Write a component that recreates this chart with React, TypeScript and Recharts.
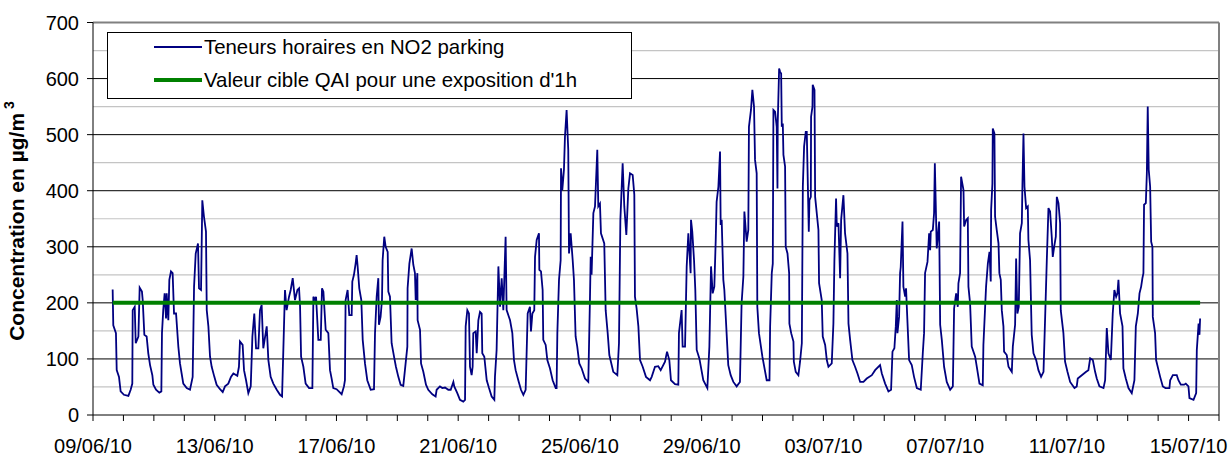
import React from 'react';
import { LineChart, Line, XAxis, YAxis, ReferenceLine } from 'recharts';

// date labels shown every 4 days on the x axis
const dateLabels = ['09/06/10', '13/06/10', '17/06/10', '21/06/10', '25/06/10', '29/06/10', '03/07/10', '07/07/10', '11/07/10', '15/07/10'];

// hours since 09/06/10 00:00
const hours = [
  15.5, 16.0, 18.1, 18.7, 20.5, 21.8, 24.4, 27.9, 29.7, 31.0,
  31.3, 32.9, 33.7, 35.8, 36.8, 38.6, 39.2, 40.5, 42.3, 43.6,
  45.0, 46.8, 47.6, 49.7, 52.3, 53.9, 54.4, 55.4, 56.5, 57.6,
  58.1, 59.4, 60.2, 61.5, 62.8, 63.9, 65.5, 67.3, 68.6, 69.9,
  71.2, 73.9, 76.5, 78.6, 79.7, 81.0, 82.8, 83.6, 85.2, 86.2,
  87.5, 89.1, 89.7, 91.0, 92.3, 93.6, 95.7, 97.5, 100.2, 102.3,
  104.1, 106.7, 108.8, 110.7, 113.8, 115.1, 115.9, 118.0, 119.1, 120.7,
  122.5, 124.4, 125.7, 127.2, 128.6, 130.4, 131.7, 133.0, 134.3, 137.0,
  138.3, 140.1, 142.2, 144.9, 147.5, 149.1, 149.6, 151.4, 152.7, 154.6,
  155.9, 157.5, 159.3, 161.2, 162.5, 163.3, 164.1, 165.9, 167.7, 170.4,
  173.0, 173.8, 175.1, 175.9, 177.7, 179.6, 180.6, 181.7, 183.5, 185.6,
  // 17/06 - 24/06
  186.9, 188.2, 189.5, 192.1, 196.1, 197.9, 198.7, 199.2, 200.8, 202.1,
  204.0, 204.5, 205.8, 207.1, 207.9, 208.7, 210.0, 211.6, 212.7, 214.5,
  216.3, 219.0, 221.6, 222.4, 223.7, 225.0, 225.5, 226.8, 227.9, 228.4,
  229.7, 230.8, 232.4, 232.9, 234.2, 235.5, 237.4, 238.9, 240.8, 242.6,
  244.7, 246.0, 247.9, 248.1, 249.5, 251.3, 252.6, 253.9, 254.5, 255.8,
  256.0, 257.9, 258.7, 260.5, 262.6, 264.4, 267.6, 270.2, 271.0, 273.6,
  275.5, 277.6, 280.2, 282.1, 284.2, 284.9, 287.3, 289.4, 292.0, 293.4,
  293.9, 295.2, 296.5, 297.3, 298.6, 299.4, 299.9, 301.8, 302.6, 303.9,
  305.2, 306.5, 307.0, 308.6, 310.5, 312.3, 314.4, 316.5, 317.0, 318.3,
  319.7, 321.0, 322.3, 323.6, 325.4, 326.2, 328.9, 330.7, 332.0, 333.3,
  335.4, 337.5, 339.4, 341.2, 342.8, 344.6, 345.4, 346.5, 348.0, 348.6,
  349.9, 351.7, 352.0, 353.3, 354.6,
  // 24/06 - 01/07
  355.1, 357.0, 358.3, 360.4, 362.5, 364.9, 365.6, 366.2, 367.5, 368.8,
  369.1, 370.1, 371.4, 372.2, 373.5, 374.8, 375.4, 376.7, 378.3, 379.3,
  380.6, 381.9, 383.5, 385.4, 388.0, 390.6, 391.9, 392.5, 393.2, 394.6,
  395.9, 397.7, 398.5, 399.8, 400.6, 403.2, 404.3, 405.9, 407.2, 410.3,
  413.5, 414.8, 415.9, 417.7, 419.0, 420.6, 422.2, 423.5, 425.6, 426.9,
  427.4, 428.7, 430.1, 431.4, 433.5, 436.1, 439.3, 440.6, 443.2, 445.8,
  447.7, 451.1, 452.7, 454.5, 455.8, 459.0, 461.6, 462.1, 464.2, 465.0,
  466.9, 468.2, 469.5, 471.3, 471.6, 472.6, 474.0, 475.0, 476.1, 478.2,
  481.3, 484.5, 486.1, 487.4, 488.7, 490.0, 491.1, 491.8, 493.2, 494.5,
  495.0, 495.8, 497.1, 497.9, 501.0, 502.9, 505.0, 507.6, 510.2, 511.5,
  512.9, 513.7, 515.5, 516.8, 517.3, 518.9, 520.0, 521.3, 522.1, 523.4,
  523.9, 525.2, 527.9, 531.3,
  // 02/07 - 08/07
  533.5, 534.0, 535.3, 536.1, 536.6, 537.9, 539.2, 539.8, 540.0, 541.1,
  541.9, 542.7, 543.2, 544.0, 544.5, 545.8, 546.3, 547.7, 549.0, 549.2,
  550.6, 552.4, 552.7, 554.2, 556.3, 557.6, 559.0, 559.8, 560.8, 562.1,
  562.9, 564.5, 565.0, 566.1, 566.3, 567.4, 567.6, 569.0, 569.5, 572.1,
  572.6, 574.7, 575.5, 577.4, 578.7, 580.0, 582.6, 583.9, 584.7, 586.0,
  586.6, 587.9, 589.2, 590.0, 591.8, 593.1, 595.0, 595.8, 597.1, 598.9,
  601.0, 602.9, 605.0, 607.6, 610.2, 614.2, 616.8, 620.7, 622.1, 624.7,
  627.3, 629.4, 630.5, 632.0, 633.1, 633.9, 634.4, 635.7, 636.5, 637.0,
  638.4, 639.1, 640.5, 641.2, 641.8, 643.6, 645.7, 647.5, 649.7, 652.8,
  654.4, 655.4, 656.2, 658.1, 659.4, 660.2, 660.7, 662.3, 663.3, 663.9,
  664.9, 665.4, 667.3, 668.1, 669.4, 671.2, 673.3, 676.0, 678.1, 679.1,
  680.7, 682.0, 682.5, 683.8, 684.6, 686.5, 687.0, 688.6, 689.9, 690.4,
  691.7, 693.0, 695.7, 697.0, 699.1, 701.7, 702.2, 704.3, 705.7, 707.0,
  // 08/07 - 15/07
  708.0, 708.3, 709.3, 709.6, 710.9, 711.4, 712.7, 714.1, 714.8, 715.9,
  716.7, 718.0, 718.5, 720.6, 722.0, 724.6, 725.4, 727.2, 728.0, 729.0,
  730.1, 731.1, 732.5, 733.0, 733.8, 734.6, 735.9, 737.2, 737.7, 739.0,
  740.3, 741.7, 743.8, 745.6, 747.7, 749.6, 750.9, 752.2, 753.5, 754.8,
  756.1, 756.9, 758.0, 759.3, 760.1, 761.4, 762.7, 763.2, 765.3, 766.6,
  768.5, 770.6, 774.0, 775.8, 776.6, 779.8, 783.2, 785.0, 786.4, 788.5,
  790.3, 791.6, 793.7, 796.9, 798.2, 799.5, 800.8, 802.7, 804.2, 805.5,
  806.9, 807.9, 808.7, 810.0, 811.9, 812.6, 814.5, 816.6, 819.2, 821.3,
  822.4, 824.0, 825.3, 826.6, 827.6, 828.4, 828.9, 830.3, 831.1, 831.8,
  832.6, 833.7, 834.5, 835.5, 835.8, 837.6, 838.4, 840.3, 841.6, 843.7,
  845.8, 848.9, 849.5, 851.6, 854.7, 856.0, 857.9, 860.5, 861.8, 863.9,
  864.7, 867.9, 870.0, 870.5, 871.9, 872.6, 873.1,
];

// NO2 concentration in µg/m3, same order as hours
const no2 = [
  224, 160, 146, 80, 68, 42, 36, 34, 45, 56,
  187, 193, 128, 140, 227, 220, 205, 143, 140, 110,
  89, 71, 54, 45, 40, 42, 146, 187, 217, 172,
  217, 169, 241, 256, 253, 181, 181, 122, 92, 74,
  56, 48, 45, 68, 229, 288, 306, 226, 223, 383,
  354, 327, 187, 158, 104, 86, 68, 54, 46, 41,
  51, 56, 68, 74, 70, 86, 131, 125, 80, 62,
  39, 51, 140, 181, 119, 119, 187, 196, 119, 158,
  98, 68, 56, 45, 36, 33, 74, 223, 187, 211,
  223, 244, 205, 223, 226, 193, 104, 86, 56, 48,
  48, 211, 205, 211, 134, 134, 226, 220, 152, 146,
  // 17/06 - 24/06
  80, 65, 48, 46, 37, 51, 62, 205, 223, 178,
  178, 238, 250, 270, 285, 265, 226, 205, 134, 92,
  62, 45, 46, 146, 211, 244, 161, 175, 205, 276,
  318, 300, 291, 220, 211, 128, 104, 86, 68, 54,
  52, 80, 122, 226, 270, 297, 268, 253, 205, 253,
  169, 152, 92, 77, 54, 45, 37, 33, 45, 51,
  48, 49, 45, 45, 59, 51, 39, 27, 24, 27,
  158, 187, 181, 86, 71, 86, 146, 149, 110, 169,
  184, 181, 110, 104, 62, 48, 33, 27, 68, 116,
  265, 193, 244, 187, 318, 187, 169, 146, 98, 80,
  62, 45, 36, 45, 181, 193, 149, 181, 187, 282,
  312, 324, 259, 256, 223,
  // 24/06 - 01/07
  134, 125, 98, 83, 62, 48, 48, 146, 241, 276,
  440, 401, 437, 496, 544, 473, 288, 324, 276, 241,
  140, 122, 92, 83, 65, 59, 205, 282, 250, 360,
  372, 473, 372, 377, 324, 306, 187, 146, 107, 77,
  71, 128, 348, 449, 372, 321, 404, 431, 428, 393,
  211, 190, 158, 98, 86, 68, 62, 68, 86, 87,
  80, 95, 113, 98, 62, 55, 54, 146, 187, 122,
  122, 265, 324, 253, 348, 327, 276, 223, 116, 101,
  62, 48, 122, 265, 217, 229, 312, 380, 407, 470,
  339, 348, 241, 223, 89, 71, 59, 51, 59, 199,
  247, 363, 309, 330, 514, 544, 580, 550, 455, 431,
  193, 146, 104, 62,
  // 02/07 - 08/07
  62, 158, 253, 270, 544, 541, 514, 404, 520, 618,
  612, 609, 514, 520, 464, 443, 300, 288, 253, 163,
  146, 131, 95, 77, 71, 95, 128, 407, 479, 505,
  505, 327, 383, 389, 532, 550, 589, 580, 389, 330,
  235, 205, 140, 125, 98, 86, 92, 163, 276, 386,
  336, 342, 244, 348, 392, 324, 288, 163, 134, 98,
  86, 74, 59, 59, 65, 71, 80, 89, 74, 56,
  42, 45, 113, 119, 158, 205, 146, 175, 253, 264,
  345, 229, 211, 226, 193, 98, 89, 68, 48, 45,
  110, 146, 253, 273, 324, 294, 327, 330, 360, 449,
  348, 297, 345, 161, 134, 86, 59, 45, 51, 190,
  217, 193, 235, 253, 425, 401, 336, 348, 351, 229,
  199, 122, 104, 86, 56, 53, 125, 229, 270, 291,
  // 08/07 - 15/07
  238, 366, 413, 511, 502, 354, 330, 306, 253, 241,
  187, 158, 113, 107, 86, 77, 122, 161, 279, 181,
  193, 324, 342, 413, 502, 407, 369, 372, 312, 276,
  143, 110, 98, 80, 68, 77, 175, 276, 369, 363,
  318, 282, 300, 318, 389, 378, 342, 187, 146, 95,
  77, 59, 48, 51, 65, 71, 77, 80, 101, 98,
  77, 65, 51, 48, 62, 155, 110, 98, 181, 223,
  211, 217, 241, 181, 158, 83, 65, 48, 39, 62,
  158, 181, 217, 229, 244, 253, 375, 378, 431, 550,
  437, 407, 309, 300, 175, 146, 98, 80, 68, 51,
  48, 48, 62, 71, 71, 62, 54, 54, 56, 51,
  30, 27, 39, 116, 163, 143, 172,
];

// QAI 1h target value
const TARGET = 200;

const yTicks = [0, 100, 200, 300, 400, 500, 600, 700];
const majorGrid = [100, 200, 300, 400, 500, 600];
const minorGrid = [50, 150, 250, 350, 450, 550, 650];

const data = hours.map((h, i) => ({ h, no2: no2[i], cible: TARGET }));
const dayTicks = Array.from({ length: 38 }, (_, i) => i * 24);

const FONT = '"Liberation Sans", Arial, sans-serif';

function XTick({ x, payload }: any) {
  const v = payload.value;
  if (v % 96 !== 0) return <g />;
  return (
    <text x={x} y={453} textAnchor="middle" fontSize={20} fill="#000" fontFamily={FONT}>
      {dateLabels[v / 96]}
    </text>
  );
}

function YTick({ y, payload }: any) {
  return (
    <text x={79} y={y} dy={7} textAnchor="end" fontSize={20} fill="#000" fontFamily={FONT}>
      {payload.value}
    </text>
  );
}

function YTitle() {
  return (
    <text transform="translate(24,221) rotate(-90)" textAnchor="middle" fontSize={21} fontWeight="bold" fill="#000" fontFamily={FONT}>
      Concentration en µg/m<tspan fontSize={14} dy={-10}>{'   3'}</tspan>
    </text>
  );
}

function LegendBox() {
  const row = (cy: number, color: string, thick: number, label: string) => (
    <>
      <div style={{ position: 'absolute', left: 46, top: cy - thick / 2, width: 48, height: thick, background: color }} />
      <div style={{ position: 'absolute', left: 96, top: cy - 12, lineHeight: '24px', whiteSpace: 'nowrap' }}>{label}</div>
    </>
  );
  return (
    <div
      style={{
        position: 'absolute', left: 107, top: 32, width: 525, height: 67, boxSizing: 'border-box',
        border: '1px solid #000', background: '#fff', fontFamily: FONT, fontSize: 20.4, color: '#000',
      }}
    >
      {row(14, '#000080', 2, 'Teneurs horaires en NO2 parking')}
      {row(47, '#008000', 4, "Valeur cible QAI pour une exposition d'1h")}
    </div>
  );
}

export default function App() {
  return (
    <div style={{ position: 'absolute', left: 0, top: 0, width: 1232, height: 457, background: '#fff' }}>
      <LineChart width={1232} height={457} data={data} margin={{ top: 22.5, right: 13, bottom: 0, left: 0 }}>
        {minorGrid.map((v) => (
          <ReferenceLine key={'m' + v} y={v} stroke="#c4c4c4" strokeWidth={1.2} />
        ))}
        {majorGrid.map((v) => (
          <ReferenceLine key={'M' + v} y={v} stroke="#000" strokeWidth={1} />
        ))}
        <ReferenceLine y={700} stroke="#808080" strokeWidth={2} />
        <ReferenceLine x={888} stroke="#808080" strokeWidth={2} />
        <XAxis
          dataKey="h"
          type="number"
          domain={[0, 888]}
          ticks={dayTicks}
          interval={0}
          height={42}
          tickSize={6}
          axisLine={{ stroke: '#000' }}
          tickLine={{ stroke: '#000' }}
          tick={(p: any) => <XTick {...p} />}
          allowDataOverflow
        />
        <YAxis
          type="number"
          domain={[0, 700]}
          ticks={yTicks}
          interval={0}
          width={93}
          tickSize={6}
          axisLine={{ stroke: '#000' }}
          tickLine={{ stroke: '#000' }}
          tick={(p: any) => <YTick {...p} />}
          label={<YTitle />}
        />
        <Line dataKey="no2" stroke="#000080" strokeWidth={1.8} dot={false} isAnimationActive={false} />
        <Line dataKey="cible" stroke="#008000" strokeWidth={4} dot={false} isAnimationActive={false} />
      </LineChart>
      <LegendBox />
    </div>
  );
}
